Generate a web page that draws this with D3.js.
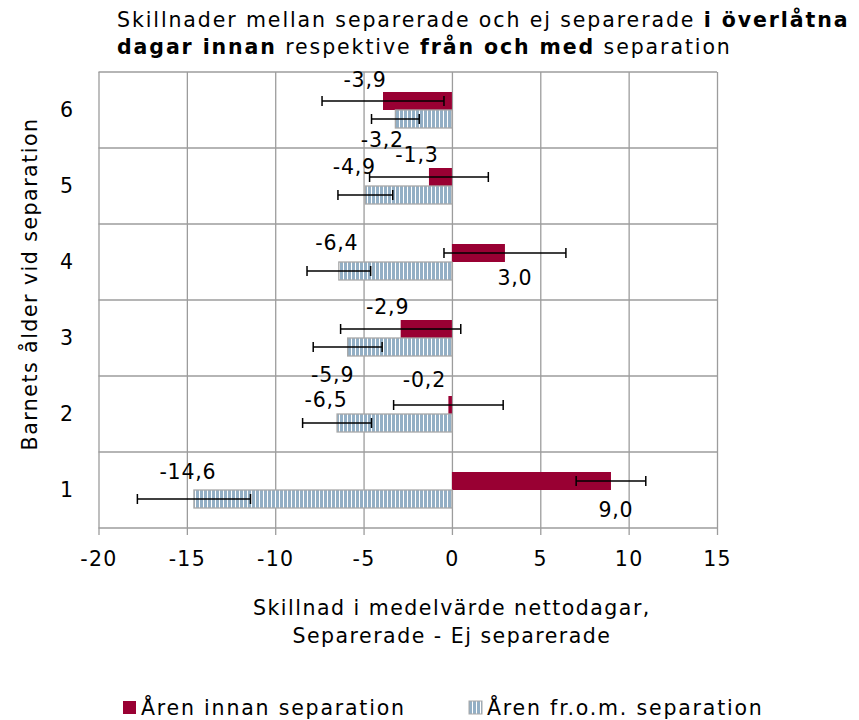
<!DOCTYPE html>
<html>
<head>
<meta charset="utf-8">
<script src="https://cdn.jsdelivr.net/npm/d3@7"></script>
<style>
  body { margin: 0; background: #fff; }
  text { font-family: "DejaVu Sans", Verdana, sans-serif; fill: #000; font-size: 20.5px; letter-spacing: 1.5px; }
</style>
</head>
<body>
<div class="chartContainer"></div>
<script>
// data
var categories = ["1", "2", "3", "4", "5", "6"];
var innan = [9.0, -0.2, -2.9, 3.0, -1.3, -3.9];
var fromOm = [-14.6, -6.5, -5.9, -6.4, -4.9, -3.2];
var innanErr = [1.97, 3.1, 3.4, 3.45, 3.36, 3.45];
var fromErr = [3.2, 1.95, 1.95, 1.8, 1.55, 1.35];
var xTicks = [-20, -15, -10, -5, 0, 5, 10, 15];
var seriesNames = ["Åren innan separation", "Åren fr.o.m. separation"];

// hand placed data labels in the original: px offset from bar end / bar centre
var nudgeInnan = [[5, 29], [-24, -25], [-13, -22], [10, 25], [-12, -22], [-18, -21]];
var nudgeFrom = [[-6, -27], [-11, -23], [-15, 28], [-2, -28], [-11, -28], [-13, 21]];

var svgWidth = 859, svgHeight = 720;
var plotLeft = 98.5, plotRight = 717, plotTop = 72, plotBottom = 528;
var red = '#990033', blue = '#93afc5', grid = '#9c9c9c';

var svg = d3.select('div.chartContainer').append('svg')
    .attr('width', svgWidth).attr('height', svgHeight);

var pat = svg.append('defs').append('pattern').attr('id', 'stripes')
    .attr('patternUnits', 'userSpaceOnUse').attr('width', 4).attr('height', 10);
pat.append('rect').attr('width', 4).attr('height', 10).attr('fill', '#fff');
pat.append('rect').attr('width', 3).attr('height', 10).attr('fill', blue);

var x = d3.scaleLinear().domain([-20, 15]).range([plotLeft, plotRight]);
var y = d3.scaleBand().domain(categories.slice().reverse()).range([plotTop, plotBottom]);
var sub = d3.scaleBand().domain(['innan', 'from']).range([20, 56]);

// Swedish style numbers: comma decimal, plain hyphen minus
var fmt = function(v) { return d3.format('.1f')(v).replace('.', ',').replace('\u2212', '-'); };

// vertical grid + tick marks + tick labels
var xAxis = svg.append('g')
    .attr('transform', 'translate(0,' + (plotBottom + 7) + ')')
    .call(d3.axisBottom(x).tickValues(xTicks).tickSize(-(plotBottom + 7 - plotTop)).tickPadding(16));
xAxis.select('.domain').remove();
xAxis.attr('font-size', null).attr('font-family', null);
xAxis.selectAll('line').attr('stroke', grid).attr('stroke-width', 1.3);
xAxis.selectAll('text').style('letter-spacing', '1.3px')
    .text(function(d) { return String(d); });

// horizontal grid at band edges
var edges = categories.map(function(c) { return y(c); }).concat([plotBottom]);
svg.append('g').selectAll('line').data(edges).enter().append('line')
    .attr('x1', plotLeft).attr('x2', plotRight)
    .attr('y1', function(d) { return d; }).attr('y2', function(d) { return d; })
    .attr('stroke', grid).attr('stroke-width', 1.3);

// category labels
var yAxis = svg.append('g').attr('transform', 'translate(' + plotLeft + ',0)')
    .call(d3.axisLeft(y).tickSize(0).tickPadding(24));
yAxis.select('.domain').remove();
yAxis.attr('font-size', null).attr('font-family', null);

var rows = categories.map(function(c, i) {
    return { cat: c, innan: innan[i], from: fromOm[i], ei: innanErr[i], ef: fromErr[i], i: i };
});

// bars
svg.append('g').selectAll('rect').data(rows).enter().append('rect')
    .attr('x', function(d) { return x(Math.min(0, d.innan)); })
    .attr('width', function(d) { return Math.abs(x(d.innan) - x(0)); })
    .attr('y', function(d) { return y(d.cat) + sub('innan'); })
    .attr('height', sub.bandwidth())
    .attr('fill', red);

svg.append('g').selectAll('rect').data(rows).enter().append('rect')
    .attr('x', function(d) { return x(Math.min(0, d.from)); })
    .attr('width', function(d) { return Math.abs(x(d.from) - x(0)); })
    .attr('y', function(d) { return y(d.cat) + sub('from'); })
    .attr('height', sub.bandwidth())
    .attr('fill', 'url(#stripes)')
    .attr('stroke', '#a8a8a8').attr('stroke-width', 1.3);

// error bars
function errorBars(key, errKey) {
    var g = svg.append('g').selectAll('g').data(rows).enter().append('g')
        .attr('transform', function(d) {
            return 'translate(0,' + (y(d.cat) + sub(key) + sub.bandwidth() / 2) + ')';
        });
    g.append('line')
        .attr('x1', function(d) { return x(d[key] - d[errKey]); })
        .attr('x2', function(d) { return x(d[key] + d[errKey]); })
        .attr('stroke', '#000').attr('stroke-width', 1.5);
    [-1, 1].forEach(function(s) {
        g.append('line')
            .attr('x1', function(d) { return x(d[key] + s * d[errKey]); })
            .attr('x2', function(d) { return x(d[key] + s * d[errKey]); })
            .attr('y1', -5).attr('y2', 5)
            .attr('stroke', '#000').attr('stroke-width', 1.5);
    });
}
errorBars('innan', 'ei');
errorBars('from', 'ef');

// data labels
function dataLabels(key, nudge) {
    svg.append('g').selectAll('text').data(rows).enter().append('text')
        .attr('x', function(d) { return x(d[key]) + nudge[d.i][0]; })
        .attr('y', function(d) { return y(d.cat) + sub(key) + sub.bandwidth() / 2 + nudge[d.i][1]; })
        .attr('text-anchor', 'middle').attr('dy', '0.35em')
        .style('letter-spacing', '0.8px')
        .text(function(d) { return fmt(d[key]); });
}
dataLabels('innan', nudgeInnan);
dataLabels('from', nudgeFrom);

// title
var title = svg.append('text').attr('x', 117).attr('y', 27).style('letter-spacing', '1.9px');
title.append('tspan').text('Skillnader mellan separerade och ej separerade ');
title.append('tspan').style('font-weight', 'bold').text('i överlåtna');
var title2 = svg.append('text').attr('x', 117).attr('y', 54).style('letter-spacing', '1.9px');
title2.append('tspan').style('font-weight', 'bold').text('dagar innan');
title2.append('tspan').text(' respektive ');
title2.append('tspan').style('font-weight', 'bold').text('från och med');
title2.append('tspan').text(' separation');

// axis titles
svg.append('text').attr('x', x(0)).attr('y', 615).attr('text-anchor', 'middle')
    .text('Skillnad i medelvärde nettodagar,');
svg.append('text').attr('x', x(0)).attr('y', 643).attr('text-anchor', 'middle')
    .text('Separerade - Ej separerade');
svg.append('text')
    .attr('transform', 'translate(37,284) rotate(-90)')
    .attr('text-anchor', 'middle')
    .text('Barnets ålder vid separation');

// legend
var legend = svg.append('g').attr('transform', 'translate(123,701)');
var items = [{ name: seriesNames[0], fill: red, x: 0 }, { name: seriesNames[1], fill: 'url(#stripes)', x: 346 }];
var li = legend.selectAll('g').data(items).enter().append('g')
    .attr('transform', function(d) { return 'translate(' + d.x + ',0)'; });
li.append('rect').attr('width', 13).attr('height', 13)
    .attr('fill', function(d) { return d.fill; })
    .attr('stroke', function(d, i) { return i ? '#a8a8a8' : 'none'; });
li.append('text').attr('x', 18).attr('y', 7).attr('dy', '0.35em')
    .style('letter-spacing', '1.8px')
    .text(function(d) { return d.name; });
</script>
</body>
</html>
